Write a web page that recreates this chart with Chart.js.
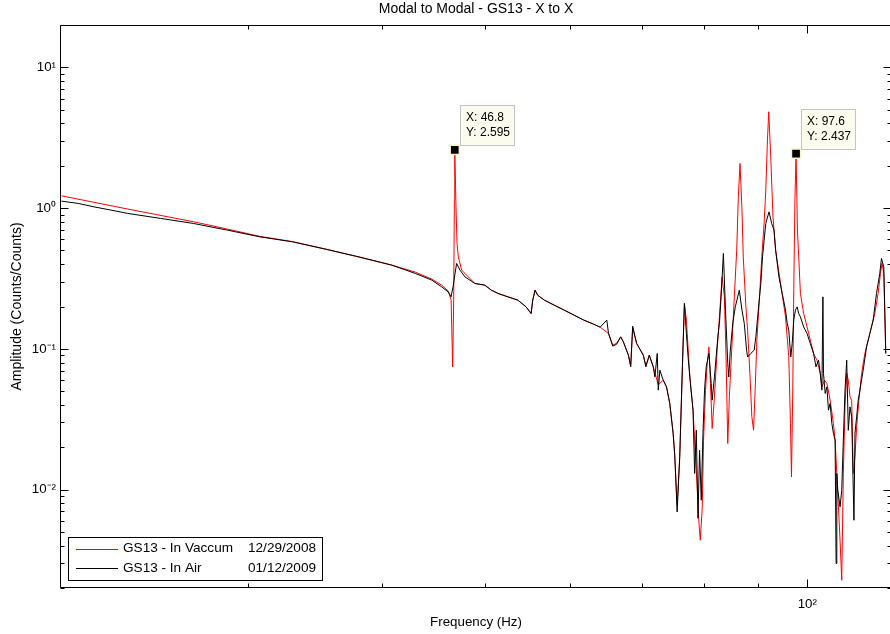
<!DOCTYPE html>
<html><head><meta charset="utf-8">
<script src="https://cdn.jsdelivr.net/npm/chart.js@4.4.0/dist/chart.umd.min.js"></script>
<style>html,body{margin:0;padding:0;background:#fff;overflow:hidden;} #c{display:block;}</style>
</head><body>
<canvas id="c" width="900" height="634"></canvas>
<script>
// ---- data ----
const vacFreq = [20.06,23.14,26.66,28.67,30.76,33.00,35.49,40.87,42.99,44.54,45.50,46.16,46.43,46.59,46.69,46.76,46.80,46.93,47.03,47.16,47.50,47.84,48.87,49.93,50.64,51.37,52.48,53.61,54.57,55.16,55.36,55.63,55.95,56.76,57.98,59.24,60.51,61.80,63.11,64.01,65.17,65.77,66.33,66.90,67.29,68.02,68.36,68.65,69.24,70.24,70.63,71.15,71.76,72.54,73.32,73.84,74.36,74.90,75.16,75.55,75.97,76.41,76.74,77.07,77.61,78.18,78.73,79.19,79.41,79.75,79.97,80.31,80.60,80.90,81.17,81.47,81.87,82.35,82.75,83.23,83.64,83.94,84.25,84.54,85.03,85.45,85.89,86.19,86.50,86.87,87.11,87.61,87.93,88.36,88.74,89.06,89.37,89.70,90.14,90.66,91.11,91.44,91.77,92.02,92.42,92.87,93.40,94.40,95.41,96.08,96.43,96.64,96.91,97.12,97.36,97.60,97.89,98.16,98.52,99.21,99.94,100.64,101.35,102.09,102.82,103.19,103.77,104.30,105.03,105.78,106.16,106.55,106.92,107.30,107.69,108.06,108.45,108.85,109.22,109.62,110.02,110.40,110.80,111.20,111.75,112.40,113.19,113.99,114.82,115.64,116.46,117.06,117.46,117.90,118.40];
const vacAmp = [1.223,0.985,0.800,0.710,0.630,0.578,0.511,0.3934,0.3508,0.3129,0.2836,0.2571,0.2219,0.0745,0.2219,1.140,2.595,0.968,0.5613,0.4505,0.3625,0.3435,0.2916,0.2836,0.2613,0.2475,0.2342,0.2219,0.1988,0.1784,0.2219,0.2613,0.2407,0.2219,0.2044,0.1884,0.1736,0.1600,0.1498,0.1426,0.1286,0.1062,0.1098,0.1217,0.1121,0.0902,0.0763,0.1403,0.1092,0.0902,0.0763,0.0902,0.0745,0.0557,0.0599,0.0537,0.0409,0.0251,0.01756,0.00775,0.01708,0.0745,0.2102,0.1600,0.0669,0.0367,0.01373,0.00574,0.00437,0.00754,0.02245,0.0509,0.0787,0.1033,0.0568,0.0272,0.0456,0.0979,0.1688,0.3248,0.2342,0.0877,0.02127,0.0456,0.1092,0.2342,0.5029,1.203,2.078,0.968,0.4505,0.1988,0.1358,0.0669,0.0329,0.0264,0.0509,0.1153,0.2102,0.4505,0.778,1.342,3.043,4.836,2.315,0.867,0.5029,0.2916,0.1688,0.0877,0.0295,0.01231,0.0509,0.2613,1.140,2.437,0.698,0.4505,0.2475,0.1784,0.1433,0.1153,0.0928,0.0831,0.0669,0.0537,0.0599,0.0568,0.0432,0.0295,0.02245,0.01302,0.00754,0.00437,0.00227,0.01302,0.0387,0.0669,0.0599,0.0456,0.0432,0.01302,0.01708,0.0279,0.0432,0.0669,0.0928,0.1153,0.1433,0.1784,0.2475,0.3435,0.4045,0.3435,0.0928];

const airFreq = [20.06,20.80,21.52,22.32,23.14,24.84,26.66,28.67,30.76,33.00,35.49,38.08,40.87,42.99,44.54,45.50,46.16,46.43,46.66,46.83,46.99,47.33,47.84,48.87,49.93,50.64,51.37,52.48,53.61,54.57,55.16,55.36,55.63,55.95,56.76,57.98,59.24,60.51,61.80,63.11,64.01,64.93,65.17,65.77,66.33,66.90,67.29,68.02,68.36,68.65,69.24,70.24,70.63,71.15,71.76,72.01,72.38,72.54,72.79,73.32,73.84,74.36,74.90,75.16,75.55,75.97,76.41,76.74,77.07,77.35,77.73,78.18,78.45,78.73,79.02,79.29,79.58,79.87,80.14,80.43,80.90,81.30,81.47,81.87,82.47,82.75,83.05,83.46,83.82,84.25,84.43,84.72,85.16,85.63,86.08,86.37,86.87,87.30,87.74,87.93,88.55,89.18,89.51,90.03,90.47,90.80,91.18,91.44,92.08,92.61,93.07,93.40,94.06,94.74,95.41,95.76,96.08,96.50,96.79,97.12,97.47,97.83,98.16,98.52,99.21,99.94,100.64,101.35,101.88,102.44,102.82,103.19,103.41,103.54,103.92,104.30,104.65,105.03,105.42,105.78,106.16,106.39,106.55,106.78,107.30,107.69,108.06,108.45,108.85,109.22,109.62,110.02,110.56,110.80,111.20,111.58,111.99,112.78,113.60,114.41,115.22,116.06,116.88,117.31,117.90,118.40];
const airAmp = [1.121,1.080,1.021,0.968,0.917,0.845,0.778,0.698,0.625,0.576,0.509,0.4505,0.3934,0.3435,0.3078,0.2759,0.2529,0.2342,0.2836,0.3452,0.4045,0.3625,0.3248,0.2916,0.2836,0.2613,0.2475,0.2342,0.2219,0.1988,0.1784,0.2219,0.2613,0.2407,0.2219,0.2044,0.1884,0.1736,0.1600,0.1498,0.1426,0.1600,0.1286,0.1045,0.1080,0.1217,0.1121,0.0902,0.0745,0.1450,0.1092,0.0902,0.0745,0.0902,0.0745,0.0632,0.0928,0.0509,0.0706,0.0599,0.0537,0.0409,0.0251,0.01756,0.00694,0.01708,0.0745,0.2102,0.1286,0.0877,0.0568,0.0367,0.01302,0.0264,0.00626,0.01905,0.00841,0.0251,0.0509,0.0745,0.0928,0.0568,0.0432,0.0632,0.1217,0.1516,0.2342,0.4765,0.1988,0.0787,0.0632,0.0979,0.1516,0.1988,0.2342,0.2613,0.1884,0.1516,0.0979,0.0877,0.0928,0.0979,0.1217,0.1988,0.2916,0.4505,0.625,0.778,0.941,0.778,0.698,0.5029,0.3248,0.2475,0.1884,0.1516,0.1358,0.0877,0.1092,0.1600,0.1884,0.1988,0.1784,0.1688,0.1433,0.1286,0.1092,0.0928,0.0745,0.0831,0.0669,0.0509,0.2342,0.0669,0.0482,0.0537,0.0367,0.0409,0.0295,0.0251,0.02245,0.002984,0.01302,0.00990,0.00754,0.00990,0.02245,0.0509,0.0831,0.0264,0.0387,0.0329,0.00606,0.0251,0.0329,0.0432,0.0509,0.0706,0.1033,0.1286,0.1600,0.2475,0.3435,0.4390,0.3826,0.0928];

const tipFreq = [46.8, 97.6];
const tipAmp = [2.595, 2.437];

const seriesNames = ['GS13 - In Vaccum', 'GS13 - In Air'];
const seriesDates = ['12/29/2008', '01/12/2009'];
const seriesColors = ['#ff0000', '#000000'];

const xTickValues = [20, 30, 40, 50, 60, 70, 80, 90, 100];
const xMajorValues = [100];
const xMajorLabels = ['10\u00B2'];
const yTickValues = [0.002,0.003,0.004,0.005,0.006,0.007,0.008,0.009,
  0.01,0.02,0.03,0.04,0.05,0.06,0.07,0.08,0.09,
  0.1,0.2,0.3,0.4,0.5,0.6,0.7,0.8,0.9,
  1,2,3,4,5,6,7,8,9,10,20];
const yMajorValues = [0.01, 0.1, 1, 10];
const yMajorLabels = ['10\u207B\u00B2', '10\u207B\u00B9', '10\u2070', '10\u00B9'];

// ---- helpers ----
const FONT = "'Liberation Sans', Arial, Helvetica, sans-serif";
Chart.defaults.font.family = FONT;
Chart.defaults.color = '#000';
const FS = 13.33;

function labelFor(v, vals, labs) {
  for (let i = 0; i < vals.length; i++) if (Math.abs(v / vals[i] - 1) < 1e-6) return labs[i];
  return '';
}
function isMajor(v) { const l = Math.log10(v); return Math.abs(l - Math.round(l)) < 1e-6; }
const toPts = (xs, ys) => xs.map((x, i) => ({x: x, y: ys[i]}));

const axesBox = {
  id: 'axesBox',
  afterDatasetsDraw(chart) {
    const {ctx, chartArea: a, scales: {x, y}} = chart;
    ctx.save();
    ctx.strokeStyle = '#000';
    ctx.lineWidth = 1;
    const L = Math.round(a.left) + 0.5, R = Math.round(a.right) - 0.5;
    const T = Math.round(a.top) + 0.5, B = Math.round(a.bottom) - 0.5;
    ctx.beginPath();
    ctx.rect(L, T, R - L, B - T);
    x.ticks.forEach(t => {
      const px = Math.round(x.getPixelForValue(t.value)) + 0.5;
      const len = isMajor(t.value) ? 8 : 4;
      ctx.moveTo(px, B); ctx.lineTo(px, B - len);
      ctx.moveTo(px, T); ctx.lineTo(px, T + len);
    });
    y.ticks.forEach(t => {
      const py = Math.round(y.getPixelForValue(t.value)) + 0.5;
      const len = isMajor(t.value) ? 8 : 4;
      ctx.moveTo(L, py); ctx.lineTo(L + len, py);
      ctx.moveTo(R, py); ctx.lineTo(R - len, py);
    });
    ctx.stroke();
    ctx.restore();
  },
  afterDraw(chart) {
    const {ctx, scales: {x, y}} = chart;
    ctx.save();
    // data tips
    tipFreq.forEach((f, i) => {
      const px = x.getPixelForValue(f), py = y.getPixelForValue(tipAmp[i]);
      const bx = Math.round(px + 5) + 0.5, by = Math.round(py - 45) + 0.5;
      ctx.fillStyle = '#fbfbee';
      ctx.strokeStyle = '#c4c4c4';
      ctx.lineWidth = 1;
      ctx.fillRect(bx, by, 54, 40);
      ctx.strokeRect(bx, by, 54, 40);
      ctx.fillStyle = '#000';
      ctx.font = '12px ' + FONT;
      ctx.textBaseline = 'middle';
      ctx.textAlign = 'left';
      ctx.fillText('X: ' + f.toFixed(1), bx + 5.5, by + 12);
      ctx.fillText('Y: ' + tipAmp[i].toFixed(3), bx + 5.5, by + 27);
    });
    // legend
    const lx = 68.5, ly = 537.5, lw = 254, lh = 43;
    ctx.fillStyle = '#fff';
    ctx.fillRect(lx, ly, lw, lh);
    ctx.strokeStyle = '#000';
    ctx.lineWidth = 1;
    ctx.strokeRect(lx, ly, lw, lh);
    ctx.font = '13.6px ' + FONT;
    ctx.textBaseline = 'middle';
    ctx.textAlign = 'left';
    seriesNames.forEach((n, i) => {
      const ry = 548.5 + i * 19.3;
      ctx.strokeStyle = seriesColors[i];
      ctx.beginPath();
      ctx.moveTo(76, Math.round(ry) + 0.5); ctx.lineTo(118, Math.round(ry) + 0.5);
      ctx.stroke();
      ctx.fillStyle = '#000';
      ctx.fillText(n, 123, ry);
      ctx.fillText(seriesDates[i], 248, ry);
    });
    ctx.restore();
  }
};

new Chart(document.getElementById('c'), {
  type: 'line',
  data: {
    datasets: [
      {label: 'tips', data: toPts(tipFreq, tipAmp), showLine: false, pointStyle: 'rect',
       pointRadius: 6.5, pointBackgroundColor: '#000', pointBorderColor: '#f6f6c8', pointBorderWidth: 1.5, order: 0},
      {label: seriesNames[1] + ' ' + seriesDates[1], data: toPts(airFreq, airAmp), borderColor: seriesColors[1],
       borderWidth: 1, pointRadius: 0, tension: 0, fill: false, order: 1},
      {label: seriesNames[0] + ' ' + seriesDates[0], data: toPts(vacFreq, vacAmp), borderColor: seriesColors[0],
       borderWidth: 1, pointRadius: 0, tension: 0, fill: false, order: 2}
    ]
  },
  options: {
    responsive: false,
    devicePixelRatio: 1,
    animation: false,
    events: [],
    layout: {padding: {top: 0, left: 0, right: 4, bottom: 0}},
    plugins: {
      legend: {display: false},
      tooltip: {enabled: false},
      title: {display: true, text: 'Modal to Modal - GS13 - X to X', fullSize: false,
        font: {size: 14, weight: 'normal'}, color: '#000', padding: {top: 0.6, bottom: 7.6}}
    },
    scales: {
      x: {
        type: 'logarithmic', position: 'bottom', min: 20, max: 120,
        grid: {display: false, drawTicks: false}, border: {display: false},
        ticks: {autoSkip: false, maxRotation: 0, minRotation: 0, padding: 8.8, font: {size: FS}, color: '#000',
          callback: (v) => labelFor(v, xMajorValues, xMajorLabels)},
        afterBuildTicks: (s) => { s.ticks = xTickValues.map(v => ({value: v})); },
        afterFit: (s) => { s.height = 46; },
        title: {display: true, text: 'Frequency (Hz)', font: {size: FS}, color: '#000', padding: {top: 0, bottom: 4}}
      },
      y: {
        type: 'logarithmic', position: 'left', min: 0.002, max: 20,
        grid: {display: false, drawTicks: false}, border: {display: false},
        ticks: {autoSkip: false, padding: 4, font: {size: FS}, color: '#000',
          callback: (v) => labelFor(v, yMajorValues, yMajorLabels)},
        afterBuildTicks: (s) => { s.ticks = yTickValues.map(v => ({value: v})); },
        afterFit: (s) => { s.width = 60; },
        title: {display: true, text: 'Amplitude (Counts/Counts)', font: {size: 14}, color: '#000', padding: {top: 9.1, bottom: 0}}
      }
    }
  },
  plugins: [axesBox]
});
</script>
</body></html>
